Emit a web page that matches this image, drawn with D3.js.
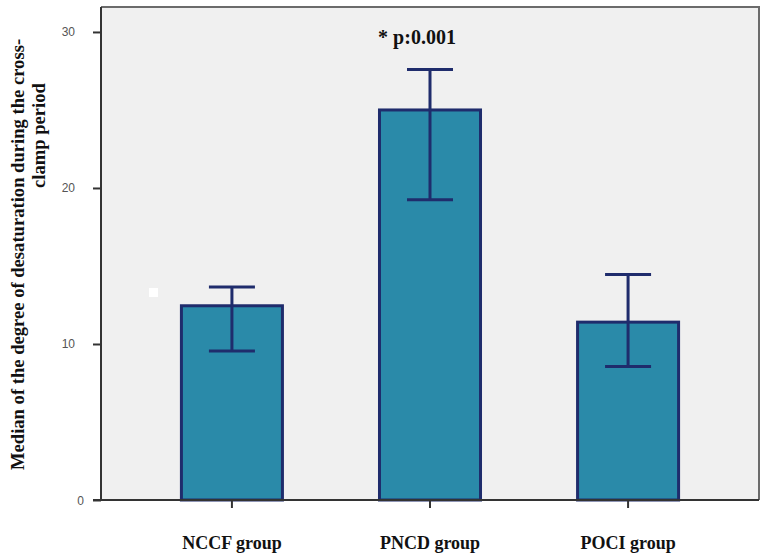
<!DOCTYPE html>
<html>
<head>
<meta charset="utf-8">
<script src="https://cdn.jsdelivr.net/npm/d3@7"></script>
<style>
  html, body { margin: 0; padding: 0; background: #fff; }
  svg { display: block; }
</style>
</head>
<body>
<svg id="chart" width="761" height="555"></svg>
<script>
// Median desaturation per group, with interval bounds
const categories = ["NCCF group", "PNCD group", "POCI group"];
const medians = [12.45, 25.0, 11.4];
const upperBounds = [13.65, 27.6, 14.45];
const lowerBounds = [9.55, 19.25, 8.55];
const yTicks = [0, 10, 20, 30];
const annotation = "* p:0.001";
const yTitleLines = ["Median of the degree of desaturation during the cross-", "clamp period"];

const rows = categories.map((c, i) => ({
  cat: c, med: medians[i], hi: upperBounds[i], lo: lowerBounds[i]
}));

const svg = d3.select("#chart");
const plot = { left: 101, top: 7, right: 759, bottom: 500 };

const x = d3.scaleBand()
  .domain(categories)
  .range([plot.left, plot.right])
  .paddingInner(0.49)
  .paddingOuter(0.406);

const y = d3.scaleLinear()
  .domain([0, 31.6])
  .range([plot.bottom, plot.top]);

const navy = "#1f2c6c";
const barFill = "#2a8aa9";

// plot background
svg.append("rect")
  .attr("x", plot.left).attr("y", plot.top)
  .attr("width", plot.right - plot.left)
  .attr("height", plot.bottom - plot.top)
  .attr("fill", "#f0f0f0");

// frame: top and right edges
svg.append("path")
  .attr("d", `M${plot.left},${plot.top}H${plot.right}V${plot.bottom}`)
  .attr("fill", "none")
  .attr("stroke", "#6b6b6b")
  .attr("stroke-width", 2);

// small white marker inside the plot
svg.append("rect")
  .attr("x", 149).attr("y", 288)
  .attr("width", 9).attr("height", 9)
  .attr("fill", "#ffffff");

// bars
svg.append("g").selectAll("rect")
  .data(rows)
  .join("rect")
  .attr("x", d => x(d.cat))
  .attr("y", d => y(d.med))
  .attr("width", x.bandwidth())
  .attr("height", d => y(0) - y(d.med))
  .attr("fill", barFill)
  .attr("stroke", navy)
  .attr("stroke-width", 3);

// error bars
const capHalf = 23;
const eb = svg.append("g")
  .attr("stroke", navy)
  .attr("stroke-width", 3)
  .attr("fill", "none");
eb.selectAll("path")
  .data(rows)
  .join("path")
  .attr("d", d => {
    const cx = x(d.cat) + x.bandwidth() / 2;
    return `M${cx},${y(d.lo)}V${y(d.hi)}` +
      `M${cx - capHalf},${y(d.hi)}H${cx + capHalf}` +
      `M${cx - capHalf},${y(d.lo)}H${cx + capHalf}`;
  });

// y axis
const yAxis = svg.append("g")
  .attr("transform", `translate(${plot.left},0)`)
  .call(d3.axisLeft(y).tickValues(yTicks).tickSize(8).tickPadding(18).tickFormat(d3.format("d")));
yAxis.select(".domain").attr("stroke", "#333").attr("stroke-width", 2)
  .attr("d", `M0,${plot.top}V${plot.bottom}`);
yAxis.selectAll(".tick line").attr("stroke", "#333").attr("stroke-width", 2);
yAxis.selectAll(".tick text")
  .attr("font-family", "Liberation Sans, Arial, sans-serif")
  .attr("font-size", 12)
  .attr("fill", "#555")
  .filter(d => d === 0).attr("x", -17).attr("dy", "0.4em");

// x axis
const xAxis = svg.append("g")
  .attr("transform", `translate(0,${plot.bottom})`)
  .call(d3.axisBottom(x).tickSize(8).tickPadding(28));
xAxis.select(".domain").attr("stroke", "#333").attr("stroke-width", 2)
  .attr("d", `M${plot.left - 8},0H${plot.right}`);
xAxis.selectAll(".tick line").attr("stroke", "#333").attr("stroke-width", 2);
xAxis.selectAll(".tick text")
  .attr("font-family", "Liberation Serif, Times New Roman, serif")
  .attr("font-weight", "bold")
  .attr("font-size", 18)
  .attr("fill", "#111");

// significance annotation above the middle bar
svg.append("text")
  .attr("x", x(categories[1]) + x.bandwidth() / 2 - 13)
  .attr("y", 44)
  .attr("text-anchor", "middle")
  .attr("font-family", "Liberation Serif, Times New Roman, serif")
  .attr("font-weight", "bold")
  .attr("font-size", 20)
  .attr("fill", "#111")
  .text(annotation);

// y axis title (two lines, rotated)
const yTitle = svg.append("text")
  .attr("transform", "rotate(-90)")
  .attr("font-family", "Liberation Serif, Times New Roman, serif")
  .attr("font-weight", "bold")
  .attr("font-size", 18.6)
  .attr("fill", "#111");
yTitle.append("tspan")
  .attr("x", -470).attr("y", 24)
  .text(yTitleLines[0]);
yTitle.append("tspan")
  .attr("x", -188).attr("y", 45)
  .text(yTitleLines[1]);
</script>
</body>
</html>
